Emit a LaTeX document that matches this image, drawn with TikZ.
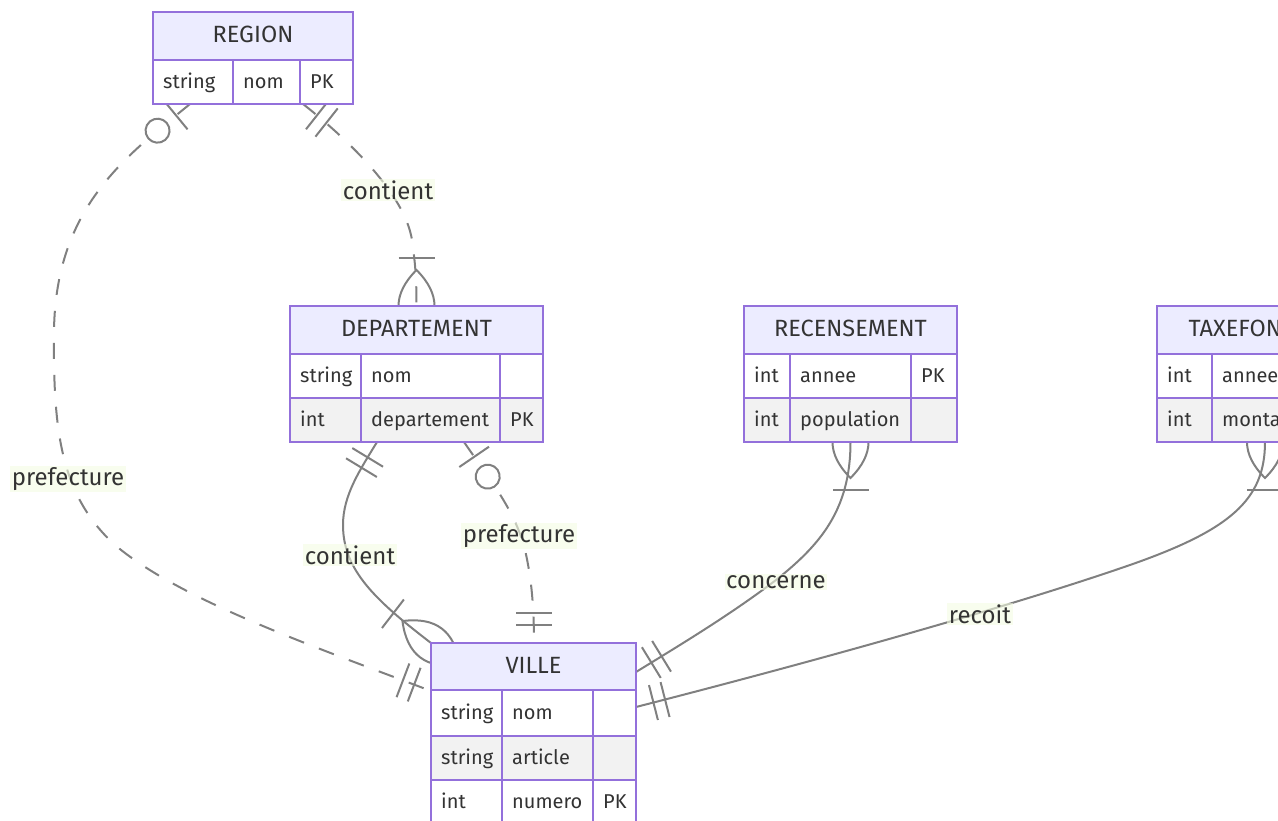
\documentclass[tikz,border=0pt]{standalone}
\usepackage{fontspec}
\setmainfont{Fira Sans}
\usetikzlibrary{calc,fit}

\definecolor{hdrfill}{HTML}{ECECFF}
\definecolor{entline}{HTML}{9370DB}
\definecolor{rowalt}{HTML}{F2F2F2}
\definecolor{ink}{HTML}{333333}
\definecolor{relline}{HTML}{808080}
\definecolor{labbg}{RGB}{244,252,226}

\tikzset{
  ent/.style={draw=entline, line width=2pt},
  hdr/.style={ent, fill=hdrfill},
  rowa/.style={ent, fill=white},
  rowb/.style={ent, fill=rowalt},
  htext/.style={text=ink, font=\fontsize{23.5}{28}\selectfont, anchor=mid, inner sep=0pt, yshift=-4pt},
  ftext/.style={text=ink, font=\fontsize{20}{24}\selectfont, anchor=mid west, inner sep=0pt, yshift=-4pt},
  entbox/.style={inner sep=0pt, outer sep=0pt},
  rel/.style={draw=relline, line width=2pt},
  reldash/.style={rel, dash pattern=on 16pt off 16pt},
  mk/.style={draw=relline, line width=2pt, solid},
  lab/.style={text=ink, font=\fontsize{24}{28}\selectfont, fill=labbg,
              fill opacity=0.6, text opacity=1, inner sep=1.5pt},
  % cardinality marks, local x axis pointing away from the entity
  erone/.pic={\draw[mk] (18,-18) -- (18,18) (30,-18) -- (30,18);},
  erzeroone/.pic={\draw[mk] (18,-18) -- (18,18);
                  \draw[mk, fill=white] (42,0) circle[radius=12pt];},
  ermany/.pic={\draw[mk] (-36,0) .. controls (-12,24) and (12,24) .. (36,0)
                          .. controls (12,-24) and (-12,-24) .. (-36,0);
               \draw[mk] (48,-18) -- (48,18);},
}

% mark #1 placed at end point #2, oriented towards #3
\newcommand{\ermark}[3]{%
  \path let \p1=($(#3)-(#2)$), \n1={atan2(\y1,\x1)} in (#2) pic[rotate=\n1] {#1};}

% table helpers: column edges, header, attribute row
\newcommand{\ecols}[4]{\def\exa{#1}\def\exb{#2}\def\exc{#3}\def\exd{#4}}
\newcommand{\ehead}[3]{%
  \path[hdr] (\exa,#1) rectangle (\exd,#2);
  \node[htext] at ({(\exa+\exd)/2},{(#1+#2)/2}) {#3};}
\newcommand{\erow}[6]{%
  \path[#3] (\exa,#1) rectangle (\exb,#2);
  \path[#3] (\exb,#1) rectangle (\exc,#2);
  \path[#3] (\exc,#1) rectangle (\exd,#2);
  \node[ftext] at ({\exa+10},{(#1+#2)/2}) {#4};
  \node[ftext] at ({\exb+10},{(#1+#2)/2}) {#5};
  \node[ftext] at ({\exc+10},{(#1+#2)/2}) {#6};}

\begin{document}
\begin{tikzpicture}[x=1pt, y=-1pt]
\useasboundingbox (0,0) rectangle (1278,821);
\clip (0,0) rectangle (1278,821);

% entity outlines
\node[entbox, fit={(153,12) (353,104)}] (region) {};
\node[entbox, fit={(290,306) (543,442)}] (dept) {};
\node[entbox, fit={(744,306) (957,442)}] (recens) {};
\node[entbox, fit={(1157,306) (1373,442)}] (taxe) {};
\node[entbox, fit={(431,643) (636,824)}] (ville) {};

% connection points
\coordinate (r-pref) at ($(region.south west)+(37,0)$);
\coordinate (r-cont) at ($(region.south west)+(150,0)$);
\coordinate (d-top)  at (dept.north);
\coordinate (d-cont) at ($(dept.south west)+(87,0)$);
\coordinate (d-pref) at ($(dept.south west)+(174,0)$);
\coordinate (rc-bot) at (recens.south);
\coordinate (t-bot)  at (taxe.south);
\coordinate (v-cont) at (ville.north west);
\coordinate (v-pref) at ($(ville.north west)+(103,0)$);
\coordinate (v-rpref) at ($(ville.north west)+(0,48)$);
\coordinate (v-conc) at ($(ville.north east)+(0,29)$);
\coordinate (v-rec)  at ($(ville.north east)+(0,64)$);

% relationships
\draw[reldash] (r-pref) .. controls (128,155) and (56,205) .. (54,330)
  .. controls (53,430) and (60,495) .. (115,545)
  .. controls (180,600) and (310,645) .. (v-rpref);
\draw[reldash] (r-cont) .. controls (350,141) and (405,195) .. (412,240)
  .. controls (415,262) and ($(d-top)+(0,-30)$) .. (d-top);
\draw[rel] (d-cont) .. controls (360,470) and (343,495) .. (343,525)
  .. controls (343,570) and (375,600) .. (v-cont);
\draw[reldash] (d-pref) .. controls (490,480) and (515,510) .. (525,550)
  .. controls (532,580) and (534,610) .. (v-pref);
\draw[rel] (rc-bot) .. controls ($(rc-bot)+(0,68)$) and (820,545) .. (776,580)
  .. controls (730,615) and (680,645) .. (v-conc);
\draw[rel] (t-bot) .. controls ($(t-bot)+(0,58)$) and (1230,530) .. (1130,565)
  .. controls (1000,610) and (800,665) .. (v-rec);

% cardinalities
\ermark{erzeroone}{r-pref}{128,155}
\ermark{erone}{v-rpref}{310,645}
\ermark{erone}{r-cont}{350,141}
\ermark{ermany}{d-top}{$(d-top)+(0,-30)$}
\ermark{erone}{d-cont}{360,470}
\ermark{ermany}{v-cont}{375,600}
\ermark{erzeroone}{d-pref}{490,480}
\ermark{erone}{v-pref}{534,610}
\ermark{ermany}{rc-bot}{$(rc-bot)+(0,68)$}
\ermark{erone}{v-conc}{680,645}
\ermark{ermany}{t-bot}{$(t-bot)+(0,58)$}
\ermark{erone}{v-rec}{800,665}

% relationship labels
\node[lab] (lab-rpref) at (68,479) {prefecture};
\node[lab] (lab-rcont) at (388,190) {contient};
\node[lab] (lab-dcont) at (350,555) {contient};
\node[lab] (lab-dpref) at (519,536) {prefecture};
\node[lab] (lab-conc)  at (776,582) {concerne};
\node[lab] (lab-rec)   at (980,614) {recoit};

% entities
\ecols{153}{233}{300}{353}
\ehead{12}{60}{REGION}
\erow{60}{104}{rowa}{string}{nom}{PK}

\ecols{290}{361}{500}{543}
\ehead{306}{354}{DEPARTEMENT}
\erow{354}{398}{rowa}{string}{nom}{}
\erow{398}{442}{rowb}{int}{departement}{PK}

\ecols{744}{790}{911}{957}
\ehead{306}{354}{RECENSEMENT}
\erow{354}{398}{rowa}{int}{annee}{PK}
\erow{398}{442}{rowb}{int}{population}{}

\ecols{1157}{1212}{1320}{1373}
\ehead{306}{354}{TAXEFONCIERE}
\erow{354}{398}{rowa}{int}{annee}{PK}
\erow{398}{442}{rowb}{int}{montant}{}

\ecols{431}{502}{593}{636}
\ehead{643}{690}{VILLE}
\erow{690}{736}{rowa}{string}{nom}{}
\erow{736}{780}{rowb}{string}{article}{}
\erow{780}{824}{rowa}{int}{numero}{PK}
\end{tikzpicture}
\end{document}
